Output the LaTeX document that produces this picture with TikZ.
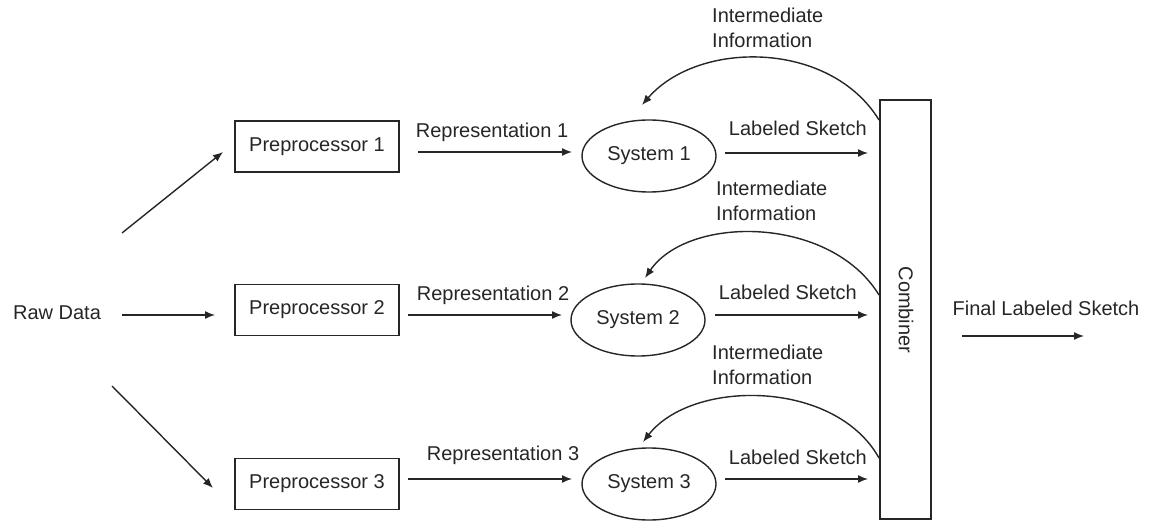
\documentclass[tikz,border=0pt]{standalone}
\usepackage{fontspec}
\setmainfont{Liberation Sans}
\usetikzlibrary{arrows.meta,shapes.geometric}
\begin{document}
\begin{tikzpicture}[x=1pt,y=-1pt,
  font=\fontsize{20}{24.5}\selectfont,
  every node/.style={text=black!85},
  lbl/.style={inner sep=0pt},
  box/.style={draw=black!85,line width=1.4pt,minimum width=164pt,minimum height=51pt,inner sep=0pt},
  sys/.style={draw=black!85,line width=1.4pt,ellipse,minimum width=134pt,minimum height=72pt,inner sep=0pt},
  arr/.style={draw=black!85,line width=1.4pt,-{Latex[length=10pt,width=8pt]}}]
\useasboundingbox (0,0) rectangle (1149,521);
% nodes
\node[lbl] (raw) at (57,313) {Raw Data};
\node[box] (p1) at (317,146.5) {Preprocessor 1};
\node[box] (p2) at (317,310) {Preprocessor 2};
\node[box] (p3) at (317,484) {Preprocessor 3};
\node[sys] (s1) at (649,156) {System 1};
\node[sys] (s2) at (638,320) {System 2};
\node[sys] (s3) at (649,484) {System 3};
\node[draw=black!85,line width=1.4pt,minimum width=51pt,minimum height=419pt,inner sep=0pt] (comb) at (905.5,309.5) {};
\node[lbl,rotate=-90] (combt) at (906,310) {Combiner};
% labels
\node[lbl] (r1) at (492,132) {Representation 1};
\node[lbl] (r2) at (493,295) {Representation 2};
\node[lbl] (r3) at (503,455) {Representation 3};
\node[lbl,anchor=east] (l1) at (867,128) {Labeled Sketch};
\node[lbl,anchor=east] (l2) at (857,292) {Labeled Sketch};
\node[lbl,anchor=east] (l3) at (867,457) {Labeled Sketch};
\node[lbl,anchor=west,align=left] (i1) at (712,28) {Intermediate\\Information};
\node[lbl,anchor=west,align=left] (i2) at (716,201) {Intermediate\\Information};
\node[lbl,anchor=west,align=left] (i3) at (712,365) {Intermediate\\Information};
\node[lbl] (fin) at (1046,308) {Final Labeled Sketch};
% coordinates
\coordinate (a1s) at (122,233); \coordinate (a1e) at (223,152);
\coordinate (a2s) at (122,315); \coordinate (a2e) at (215,315);
\coordinate (a3s) at (112,386); \coordinate (a3e) at (213,488);
\coordinate (r1s) at (418,152); \coordinate (r1e) at (572,152);
\coordinate (r2s) at (408,315); \coordinate (r2e) at (562,315);
\coordinate (r3s) at (408,479); \coordinate (r3e) at (572,479);
\coordinate (l1s) at (725,153); \coordinate (l1e) at (868,153);
\coordinate (l2s) at (715,315); \coordinate (l2e) at (868,315);
\coordinate (l3s) at (725,479); \coordinate (l3e) at (868,479);
\coordinate (c1s) at (879,120); \coordinate (c1e) at (642,105);
\coordinate (c2s) at (879,295); \coordinate (c2e) at (645,278);
\coordinate (c3s) at (879,458); \coordinate (c3e) at (643,442);
\coordinate (fs) at (962,336); \coordinate (fe) at (1084,336);
% connectors
\draw[arr] (a1s) -- (a1e);
\draw[arr] (a2s) -- (a2e);
\draw[arr] (a3s) -- (a3e);
\draw[arr] (r1s) -- (r1e);
\draw[arr] (r2s) -- (r2e);
\draw[arr] (r3s) -- (r3e);
\draw[arr] (l1s) -- (l1e);
\draw[arr] (l2s) -- (l2e);
\draw[arr] (l3s) -- (l3e);
\draw[arr] (c1s) .. controls (830,40) and (698,40) .. (c1e);
\draw[arr] (c2s) .. controls (830,215) and (688,215) .. (c2e);
\draw[arr] (c3s) .. controls (835,379) and (692,379) .. (c3e);
\draw[arr] (fs) -- (fe);
\end{tikzpicture}
\end{document}
